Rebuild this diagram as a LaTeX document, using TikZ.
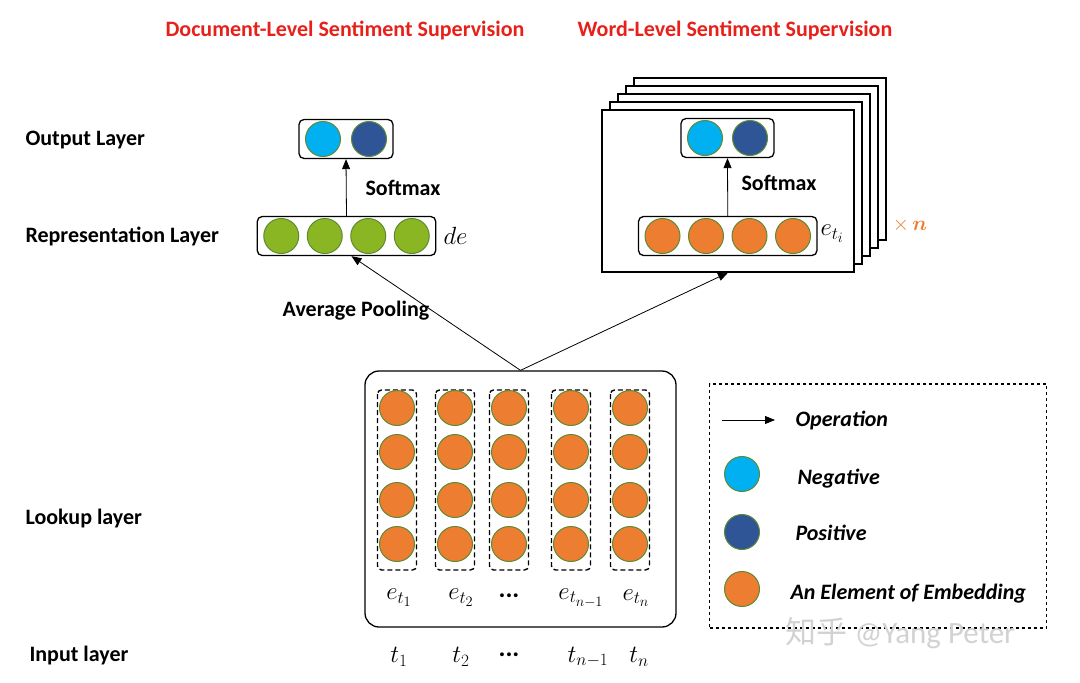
\documentclass[tikz,border=0pt]{standalone}
\usepackage{amsmath}
\usepackage{fontspec}
\setmainfont{Carlito}
\newfontfamily\cjkfont{Noto Sans CJK SC}
\usetikzlibrary{arrows.meta, positioning, fit, calc}
\DeclareMathSizes{26}{26}{19}{15}
\DeclareMathSizes{24}{24}{18}{14}

\definecolor{negblue}{HTML}{00B0F0}
\definecolor{posblue}{HTML}{2F5597}
\definecolor{embgreen}{HTML}{8AB623}
\definecolor{emborange}{HTML}{ED7D31}
\definecolor{rimgreen}{HTML}{5E8A34}
\definecolor{titlered}{HTML}{E8201A}

\begin{document}
\begin{tikzpicture}[
    x=1pt, y=-1pt,
    >={Triangle[length=10pt, width=8pt]},
    cell/.style={circle, draw=rimgreen, line width=1pt, minimum size=35pt, inner sep=0pt},
    negcell/.style={cell, fill=negblue},
    poscell/.style={cell, fill=posblue},
    greencell/.style={cell, fill=embgreen},
    orangecell/.style={cell, fill=emborange},
    vecbox/.style={draw, line width=1.3pt, rounded corners=5pt, inner xsep=6pt, inner ysep=1.5pt},
    colbox/.style={draw, dash pattern=on 5pt off 3pt, line width=1.4pt, rounded corners=4pt},
    framebox/.style={draw, fill=white, line width=1.3pt, minimum width=252pt, minimum height=162pt},
    titletext/.style={font=\fontsize{22}{26}\selectfont\bfseries, text=titlered},
    layertext/.style={anchor=west, font=\fontsize{22}{26}\selectfont\bfseries},
    optext/.style={font=\fontsize{22}{26}\selectfont\bfseries},
    legendtext/.style={anchor=west, font=\fontsize{22}{26}\selectfont\bfseries\itshape},
    mathtext/.style={font=\fontsize{26}{30}\selectfont},
    arrow/.style={->, line width=0.8pt}
]
\useasboundingbox (0,0) rectangle (1080,683);

% Titles
\node[titletext] (doctitle) at (345,30) {Document-Level Sentiment Supervision};
\node[titletext] (wordtitle) at (735,30) {Word-Level Sentiment Supervision};

% Layer names
\node[layertext] (outlabel) at (22,140) {Output Layer};
\node[layertext] (replabel) at (22,236) {Representation Layer};
\node[layertext] (lookuplabel) at (22,519) {Lookup layer};
\node[layertext] (inlabel) at (26,656) {Input layer};

% Document-level branch
\node[negcell] (dneg) at (323,139) {};
\node[poscell] (dpos) at (369,139) {};
\node[vecbox, fit=(dneg)(dpos)] (docout) {};
\foreach \i/\x in {1/281.25, 2/324.75, 3/368.25, 4/411.75}
    \node[greencell] (g\i) at (\x,236) {};
\node[vecbox, fit=(g1)(g4)] (docrep) {};
\node[mathtext, anchor=west, font=\fontsize{24}{28}\selectfont] (delabel) at (440,236) {$de$};
\draw[arrow] (docrep.north) -- (docout.south);
\node[optext] (docsoftmax) at (403,188) {Softmax};

% Word-level branch (stack of n frames)
\foreach \k in {4,3,2,1,0}
    \node[framebox] (frame\k) at (728+8*\k,191-8*\k) {};
\node[negcell] (wneg) at (705,138) {};
\node[poscell] (wpos) at (750,138) {};
\node[vecbox, fit=(wneg)(wpos)] (wordout) {};
\foreach \i/\x in {1/662.5, 2/706, 3/749.5, 4/793}
    \node[orangecell] (o\i) at (\x,236) {};
\node[vecbox, fit=(o1)(o4)] (wordrep) {};
\node[mathtext, anchor=west] (etilabel) at (817,234) {$e_{t_i}$};
\node[font=\fontsize{22}{26}\selectfont, text=emborange] (timesn) at (910,225) {$\times\,\boldsymbol{n}$};
\draw[arrow] (wordrep.north) -- (wordout.south);
\node[optext] (wordsoftmax) at (779,183) {Softmax};

% Lookup layer
\foreach \c/\x in {1/397, 2/455, 3/509, 4/571, 5/630} {
    \coordinate (ctop\c) at (\x,390);
    \coordinate (cbot\c) at (\x,570);
    \draw[colbox] ($(ctop\c)+(-19.5,0)$) rectangle ($(cbot\c)+(19.5,0)$);
    \foreach \r/\y in {1/408, 2/452, 3/500, 4/544}
        \node[orangecell] (e\c\r) at (\x,\y) {};
}
\node[draw, line width=1.3pt, rounded corners=14pt, minimum width=311pt, minimum height=256pt] (lookup) at (520.5,499) {};

% Embedding and input labels
\node[mathtext] (et1) at (399,598) {$e_{t_1}$};
\node[mathtext] (et2) at (461,598) {$e_{t_2}$};
\node[mathtext] (etdots) at (509,596) {\textbf{...}};
\node[mathtext] (etn1) at (581,598) {$e_{t_{n-1}}$};
\node[mathtext] (etn) at (636,598) {$e_{t_n}$};
\node[mathtext] (t1) at (399,657) {$t_1$};
\node[mathtext] (t2) at (461,657) {$t_2$};
\node[mathtext] (tdots) at (509,655) {\textbf{...}};
\node[mathtext] (tn1) at (588,657) {$t_{n-1}$};
\node[mathtext] (tn) at (639,657) {$t_n$};

% Flow Edges
\draw[arrow] (lookup.north) -- ([xshift=5pt]docrep.south);
\draw[arrow] (lookup.north) -- (frame0.south);
\node[optext] (avgpool) at (356,311) {Average Pooling};

% Legend
\node[draw, dashed, line width=1.2pt, minimum width=337pt, minimum height=244pt] (legend) at (878,506) {};
\coordinate (opstart) at (722,420);
\coordinate (opend) at (775,420);
\draw[arrow] (opstart) -- (opend);
\node[legendtext] (optxt) at (792,421) {Operation};
\node[negcell] (legneg) at (742,474) {};
\node[legendtext] (negtxt) at (794,479) {Negative};
\node[poscell] (legpos) at (742,532) {};
\node[legendtext] (postxt) at (792,533) {Positive};
\node[orangecell] (legemb) at (742,589) {};
\node[legendtext] (embtxt) at (787,594) {An Element of Embedding};

% watermark
\node[anchor=west, text=gray!35, font=\fontsize{31}{34}\selectfont] (mark) at (782,633) {{\cjkfont 知乎} @Yang Peter};

\end{tikzpicture}
\end{document}
